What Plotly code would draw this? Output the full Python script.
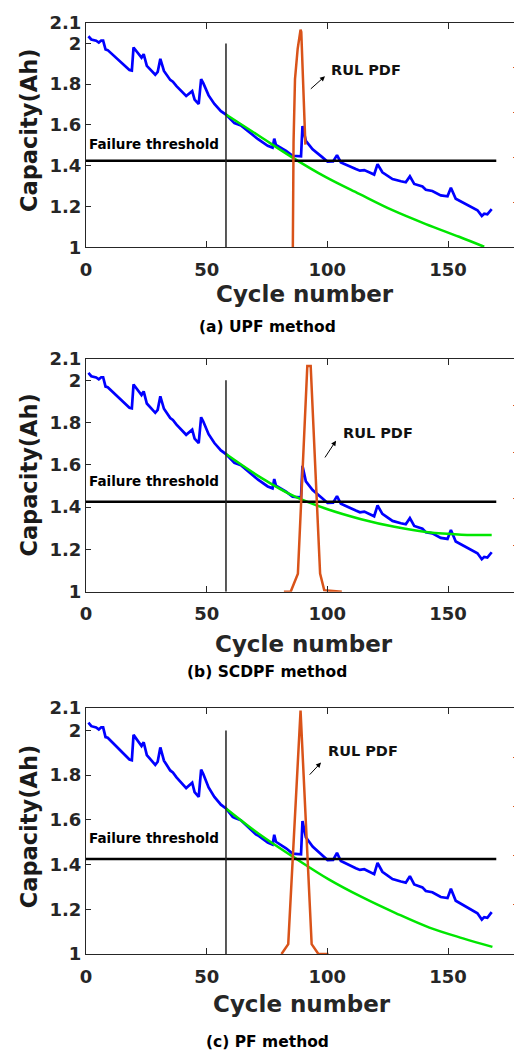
import plotly.graph_objects as go

cycle = [1, 2.2, 4.2, 5.3, 6.3, 7.1, 8.1, 9, 18, 19, 19.7, 21.9, 23, 23.9, 25.2,
         28.7, 29.7, 30.8, 32.3, 34.9, 36, 37.5, 41.5, 44, 45, 46.7, 47.7, 48.6,
         50.8, 53.2, 55.9, 58, 60.8, 61.5, 64.2, 70.4, 71.3, 75.3, 77.3, 78, 78.7,
         82.9, 85.6, 89.1, 89.7, 91.1, 93.9, 98, 100.1, 102.4, 104, 105.6, 108.4,
         111.8, 113.5, 115.3, 119.4, 120.8, 122.8, 127, 130.5, 132.5, 134.2, 136,
         139.4, 140.8, 143.5, 147, 149.8, 151.2, 153.2, 157.4, 162.2, 164, 165,
         166.3, 168.1]
capacity = [2.035, 2.019, 2.013, 2.004, 2.014, 2.014, 1.970, 1.967, 1.870, 1.867,
            1.980, 1.950, 1.930, 1.947, 1.890, 1.846, 1.860, 1.924, 1.865, 1.821,
            1.812, 1.790, 1.742, 1.766, 1.724, 1.703, 1.825, 1.805, 1.745, 1.703,
            1.668, 1.651, 1.613, 1.609, 1.598, 1.535, 1.530, 1.498, 1.489, 1.533,
            1.502, 1.473, 1.449, 1.446, 1.595, 1.522, 1.481, 1.441, 1.420, 1.421,
            1.452, 1.416, 1.400, 1.384, 1.376, 1.379, 1.357, 1.408, 1.368, 1.335,
            1.324, 1.319, 1.348, 1.311, 1.298, 1.282, 1.276, 1.255, 1.250, 1.292,
            1.238, 1.211, 1.182, 1.154, 1.165, 1.162, 1.187]

threshold = 1.425
threshold_end = 170
start_cycle = 58
start_top = 2.0

# predicted capacity (green) for each method
upf_cycle = [58, 71.8, 85.6, 99.4, 113.2, 127, 140.8, 154.6, 165]
upf_cap = [1.651, 1.546, 1.440, 1.344, 1.262, 1.182, 1.114, 1.052, 1.003]
scdpf_cycle = [58, 72.3, 86.2, 100.1, 114, 127.8, 141.7, 155.6, 168.1]
scdpf_cap = [1.651, 1.541, 1.452, 1.390, 1.343, 1.307, 1.281, 1.270, 1.268]
pf_cycle = [58, 72.3, 86.5, 100.4, 114.4, 128.3, 142.3, 156.2, 168.4]
pf_cap = [1.651, 1.532, 1.430, 1.335, 1.254, 1.183, 1.118, 1.070, 1.032]

# RUL pdf (orange, right axis)
upf_pdf_cycle = [85.7, 86.0, 86.6, 87.7, 88.9, 89.2, 90.9]
upf_pdf = [0.0, 0.47, 0.75, 0.885, 0.97, 0.96, 0.458]
scdpf_pdf_cycle = [82, 84.8, 87.8, 91.7, 93.1, 97, 98.7, 106]
scdpf_pdf = [0.0, 0.0, 0.078, 0.97, 0.97, 0.078, 0.007, 0.0]
pf_pdf_cycle = [81, 83.8, 88.9, 93.5, 96.3, 100.5]
pf_pdf = [0.0, 0.04, 0.99, 0.04, 0.0, 0.0]

captions = ["(a) UPF method", "(b) SCDPF method", "(c) PF method"]
x_ticks = [0, 50, 100, 150]
y_ticks = [1, 1.2, 1.4, 1.6, 1.8, 2, 2.1]
y_text = ["1", "1.2", "1.4", "1.6", "1.8", "2", "2.1"]

BLUE = "#0000FF"
GREEN = "#00E600"
ORANGE = "#D95319"
DARK = "#262626"
FONT = "DejaVu Sans"

# page has an 8px body margin, so the figure is shifted by that much
OFF = 8
W, H = 522 - OFF, 1052 - OFF
L, R, T, B = 86 - OFF, 4, 14 - OFF, 98


def paper(x, y):
    # reference pixel -> paper coords
    x, y = x - OFF, y - OFF
    return (x - L) / (W - L - R), (H - B - y) / (H - T - B)


# pixel layout of each panel (reference pixels)
panels = [
    dict(top=14, bot=240.5, pred=(upf_cycle, upf_cap), pdf=(upf_pdf_cycle, upf_pdf),
         fail_y=1.508, rul=(366, 61), arrow=((309.3, 81.7), (325, 67.7)),
         ytitle=123, xtitle=(305, 288), cap=(267, 320.5)),
    dict(top=353.3, bot=588.3, pred=(scdpf_cycle, scdpf_cap), pdf=(scdpf_pdf_cycle, scdpf_pdf),
         fail_y=1.522, rul=(377.7, 428.3), arrow=((324, 454), (336, 435.7)),
         ytitle=471, xtitle=(304, 641), cap=(267, 669.5)),
    dict(top=705.7, bot=954, pred=(pf_cycle, pf_cap), pdf=(pf_pdf_cycle, pf_pdf),
         fail_y=1.52, rul=(363, 749), arrow=((308.3, 774.3), (321, 760.7)),
         ytitle=826, xtitle=(301.7, 1004), cap=(267, 1042.5)),
]

fig = go.Figure()
layout = {}
annotations = []

for i, p in enumerate(panels):
    xn = "" if i == 0 else str(i + 1)
    yl = "" if i == 0 else str(2 * i + 1)
    yr = str(2 * i + 2)
    xa, ya, yb = "x" + xn, "y" + yl, "y" + yr

    fig.add_trace(go.Scatter(x=cycle, y=capacity, mode="lines", xaxis=xa, yaxis=ya,
                             line=dict(color=BLUE, width=2.7)))
    fig.add_trace(go.Scatter(x=p["pred"][0], y=p["pred"][1], mode="lines", xaxis=xa, yaxis=ya,
                             line=dict(color=GREEN, width=2.5, shape="spline")))
    fig.add_trace(go.Scatter(x=[0, threshold_end], y=[threshold, threshold], mode="lines",
                             xaxis=xa, yaxis=ya, line=dict(color="black", width=2.5)))
    fig.add_trace(go.Scatter(x=[start_cycle, start_cycle], y=[1, start_top], mode="lines",
                             xaxis=xa, yaxis=ya, line=dict(color="#222222", width=1.5)))
    fig.add_trace(go.Scatter(x=p["pdf"][0], y=p["pdf"][1], mode="lines", xaxis=xa, yaxis=yb,
                             line=dict(color=ORANGE, width=2.5)))

    d0 = paper(0, p["bot"])[1]
    d1 = paper(0, p["top"])[1]
    layout["xaxis" + xn] = dict(
        domain=[0, 1], anchor=ya, range=[0, 179], tickvals=x_ticks,
        ticks="inside", ticklen=6, tickcolor=DARK, showline=True, linecolor=DARK,
        linewidth=1, mirror="ticks", showgrid=False, zeroline=False,
        ticklabelstandoff=6,
        tickfont=dict(family=FONT, size=18, color=DARK, weight="bold"))
    layout["yaxis" + yl] = dict(
        domain=[d0, d1], anchor=xa, range=[1, 2.1], tickvals=y_ticks, ticktext=y_text,
        ticks="inside", ticklen=5, tickcolor=DARK, showline=True, linecolor=DARK,
        linewidth=1, showgrid=False, zeroline=False, ticklabelstandoff=0,
        tickfont=dict(family=FONT, size=18, color=DARK, weight="bold"))
    layout["yaxis" + yr] = dict(
        overlaying=ya, side="right", anchor=xa, range=[0, 1],
        tickvals=[0, 0.2, 0.4, 0.6, 0.8, 1], showticklabels=False,
        ticks="inside", ticklen=5, tickcolor=ORANGE, showline=True, linecolor=ORANGE,
        linewidth=1.5, showgrid=False, zeroline=False)

    annotations.append(dict(x=0.6, y=p["fail_y"], xref=xa, yref=ya, xanchor="left",
                            yanchor="middle", showarrow=False, text="Failure threshold",
                            font=dict(family=FONT, size=13.5, color="black", weight="bold")))
    rx, ry = paper(*p["rul"])
    annotations.append(dict(x=rx, y=ry, xref="paper", yref="paper", showarrow=False,
                            text="RUL PDF", xanchor="center", yanchor="middle",
                            font=dict(family=FONT, size=14.5, color="#111111", weight="bold")))
    (tx, ty), (hx, hy) = p["arrow"]
    ax_, ay_ = paper(hx, hy)
    annotations.append(dict(x=ax_, y=ay_, xref="paper", yref="paper", text="",
                            showarrow=True, ax=tx - hx, ay=ty - hy, axref="pixel",
                            ayref="pixel", arrowhead=2, arrowsize=1, arrowwidth=1,
                            arrowcolor="black"))
    yx, yy = paper(29, p["ytitle"])
    annotations.append(dict(x=yx, y=yy, xref="paper", yref="paper", showarrow=False,
                            text="Capacity(Ah)", textangle=-90, xanchor="center",
                            yanchor="middle",
                            font=dict(family=FONT, size=22.5, color="#1a1a1a", weight="bold")))
    cx, cy = paper(*p["xtitle"])
    annotations.append(dict(x=cx, y=cy, xref="paper", yref="paper", showarrow=False,
                            text="Cycle number", xanchor="center", yanchor="middle",
                            font=dict(family=FONT, size=23, color=DARK, weight="bold")))
    kx, ky = paper(*p["cap"])
    annotations.append(dict(x=kx, y=ky, xref="paper", yref="paper", showarrow=False,
                            text=captions[i], xanchor="center", yanchor="middle",
                            font=dict(family=FONT, size=15.5, color="black", weight="bold")))

fig.update_layout(**layout)
fig.update_layout(width=W, height=H, margin=dict(l=L, r=R, t=T, b=B),
                  plot_bgcolor="white", paper_bgcolor="white", showlegend=False,
                  annotations=annotations)

fig.write_html("out.html")
